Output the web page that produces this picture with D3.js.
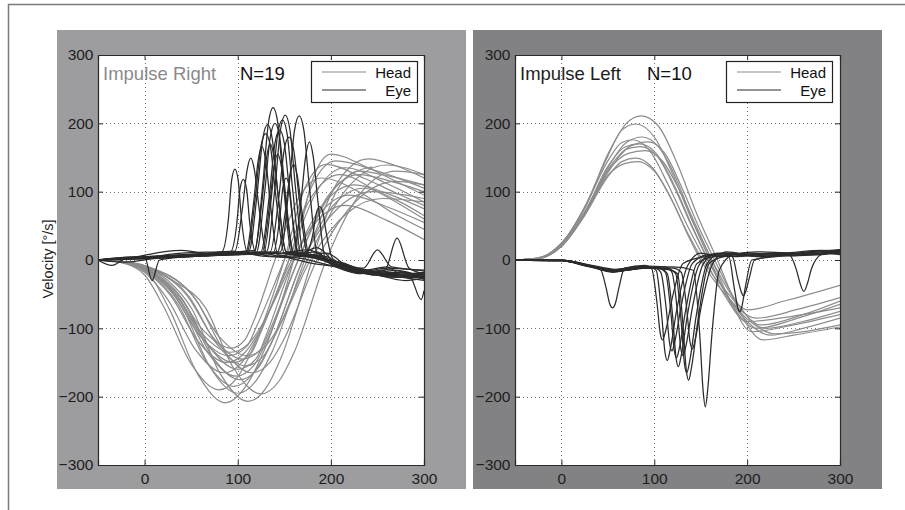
<!DOCTYPE html>
<html>
<head>
<meta charset="utf-8">
<script src="https://cdn.jsdelivr.net/npm/d3@7"></script>
<style>
  body { margin: 0; background: #fff; }
  svg { display: block; }
  text { font-family: "Liberation Sans", Arial, Helvetica, sans-serif; }
</style>
</head>
<body>
<svg id="chart" width="905" height="510"></svg>
<script>
// ---------- DATA ----------
const xTickValues = [0, 100, 200, 300];
const yTickValues = [-300, -200, -100, 0, 100, 200, 300];
const xDomain = [-50, 300];
const yDomain = [-300, 300];
const legendLabels = ["Head", "Eye"];

const panelTitles = ["Impulse Right", "Impulse Left"];
const panelCounts = ["N=19", "N=10"];
const yAxisLabel = "Velocity [°/s]";

// Impulse Right: head velocity traces [time ms, velocity °/s]
const headRight = [
  [[-50,0],[-25,-3],[0,-15],[27,-73],[57,-167],[87,-209],[107,-188],[124,-146],[160,0],[180,116],[200,155],[240,135],[270,115],[300,95]],
  [[-50,0],[-25,-2],[0,-10],[25,-30],[51,-72],[81,-166],[111,-207],[131,-186],[146,-145],[180,0],[205,98],[230,130],[265,122],[300,110]],
  [[-50,0],[-25,-2],[0,-8],[30,-30],[65,-69],[95,-157],[125,-196],[145,-176],[160,-137],[195,0],[232,98],[270,130],[300,125]],
  [[-50,0],[-25,-4],[0,-22],[20,-67],[50,-152],[80,-190],[100,-171],[115,-133],[150,0],[172,105],[195,140],[235,120],[270,98],[300,80]],
  [[-50,0],[-25,-2],[0,-12],[33,-45],[63,-103],[93,-129],[108,-116],[117,-90],[140,0],[165,90],[190,120],[230,100],[265,70],[300,45]],
  [[-50,0],[-25,-3],[0,-14],[30,-49],[60,-112],[90,-140],[110,-126],[120,-98],[150,0],[180,94],[210,125],[250,100],[300,60]],
  [[-50,0],[-25,-2],[0,-12],[35,-52],[65,-120],[95,-150],[115,-135],[125,-105],[155,0],[185,101],[215,135],[260,112],[300,85]],
  [[-50,0],[-25,-2],[0,-11],[40,-56],[70,-128],[100,-160],[120,-144],[130,-112],[160,0],[192,82],[225,110],[265,95],[300,75]],
  [[-50,0],[-25,-3],[0,-14],[38,-60],[68,-136],[98,-170],[118,-153],[131,-119],[165,0],[197,94],[230,125],[265,115],[300,100]],
  [[-50,0],[-25,-2],[0,-10],[45,-51],[75,-116],[105,-145],[125,-130],[135,-101],[165,0],[202,101],[240,135],[245,136]],
  [[-50,0],[-25,-3],[0,-18],[25,-58],[55,-132],[85,-165],[105,-149],[120,-115],[155,0],[180,109],[205,145],[250,130],[300,105]],
  [[-50,0],[-25,-2],[0,-11],[42,-61],[72,-140],[102,-175],[122,-158],[136,-122],[170,0],[207,75],[245,100],[300,90]],
  [[-50,0],[-25,-2],[0,-9],[48,-54],[78,-124],[108,-155],[128,-140],[141,-108],[175,0],[217,104],[260,139],[300,125]],
  [[-50,0],[-25,-2],[0,-13],[32,-47],[62,-108],[92,-135],[112,-122],[126,-95],[160,0],[190,71],[220,95],[260,78],[300,55]],
  [[-50,0],[-25,-2],[0,-8],[55,-58],[85,-132],[115,-165],[135,-149],[150,-115],[185,0],[227,86],[270,115],[300,110]],
  [[-50,0],[-25,-3],[0,-15],[36,-65],[66,-148],[96,-185],[116,-167],[133,-130],[170,0],[202,79],[235,105],[270,88],[300,65]],
  [[-50,0],[-25,-3],[0,-16],[28,-52],[58,-120],[88,-150],[108,-135],[123,-105],[158,0],[187,60],[215,80],[260,58],[300,30]],
  [[-50,0],[-25,-2],[0,-9],[50,-49],[80,-112],[110,-140],[130,-126],[144,-98],[178,0],[217,68],[255,90],[300,85]],
  [[-50,0],[-25,-3],[0,-13],[40,-68],[70,-156],[100,-195],[120,-176],[136,-137],[172,0],[206,111],[240,148],[270,138],[300,120]]
];

// Impulse Right: eye velocity traces
const eyeRight = [
  [[-50,0],[-30,3],[0,5],[40,8],[70,10],[83,12],[90,60],[93.5,117],[97,133],[100.5,117],[104,60],[111,10],[135,5],[160,8],[190,2],[220,-12],[250,-20],[300,-25]],
  [[-50,0],[-20,-3],[10,2],[50,6],[80,9],[92,11],[99,53],[102.5,104],[106,118],[109.5,104],[113,53],[120,10],[150,4],[185,6],[210,-8],[240,-15],[270,-22],[300,-18]],
  [[-50,0],[-25,2],[0,4],[40,10],[80,12],[97,13],[105,75],[110,131],[114,149],[118,131],[123,75],[131,10],[155,3],[180,-5],[205,-10],[230,-20],[260,-14],[300,-28]],
  [[-50,0],[-20,2],[20,12],[40,14],[70,9],[100,10],[109,12],[117,83],[122,146],[126,166],[130,146],[135,83],[143,8],[170,2],[200,-8],[230,-16],[265,-20],[300,-22]],
  [[-50,0],[0,4],[50,7],[100,10],[118,12],[127,112],[133,201],[138,223],[143,201],[149,112],[158,8],[180,4],[200,0],[225,-14],[255,-22],[300,-18]],
  [[-50,0],[0,3],[60,8],[110,11],[131,12],[140,106],[146,191],[151,212],[156,191],[162,106],[171,6],[190,3],[210,-10],[240,-18],[270,-25],[300,-20]],
  [[-50,0],[0,2],[60,7],[120,10],[146,12],[155,106],[161,190],[166,211],[171,190],[177,106],[186,5],[205,-2],[225,-12],[250,-20],[280,-26],[300,-30]],
  [[-50,0],[0,3],[60,6],[130,9],[160,10],[168,87],[173,152],[177,173],[181,152],[186,87],[194,3],[215,-5],[235,-15],[260,-10],[280,-25],[300,-20]],
  [[-50,0],[0,4],[60,7],[140,10],[174,12],[181,40],[184.5,69],[188,78],[191.5,69],[195,40],[202,2],[225,-12],[245,-22],[270,-18],[300,-24]],
  [[-50,0],[-35,-8],[-20,2],[20,5],[70,8],[100,11],[110,12],[119,93],[125,167],[130,185],[135,167],[141,93],[150,10],[175,5],[200,-3],[230,-14],[260,-24],[300,-26]],
  [[-50,0],[0,3],[40,6],[100,10],[120,11],[129,100],[135,180],[140,200],[145,180],[151,100],[160,10],[180,8],[200,-5],[235,-12],[250,15],[265,-10],[300,-15]],
  [[-50,0],[0,5],[8,-30],[16,0],[50,5],[100,9],[125,12],[134,95],[140,171],[145,190],[150,171],[156,95],[165,8],[185,18],[200,2],[210,-10],[240,-20],[270,-15],[300,-25]],
  [[-50,0],[0,3],[50,8],[100,12],[118,14],[126,85],[131,150],[135,170],[139,150],[144,85],[152,12],[180,6],[205,-8],[235,-18],[258,-15],[271,32],[284,-12],[300,-20]],
  [[-50,0],[0,2],[60,6],[110,9],[128,11],[137,103],[143,185],[148,205],[153,185],[159,103],[168,9],[195,5],[215,-12],[245,-16],[285,-25],[297,-58],[300,-45]],
  [[-50,0],[0,3],[60,7],[120,10],[135,12],[144,90],[150,162],[155,180],[160,162],[166,90],[175,8],[195,-2],[220,-15],[250,-22],[280,-18],[300,-28]],
  [[-50,0],[0,4],[60,8],[120,11],[143,12],[151,70],[156,123],[160,140],[164,123],[169,70],[177,6],[200,0],[225,-10],[255,-20],[300,-22]],
  [[-50,0],[0,2],[50,5],[100,9],[126,10],[134,78],[139,136],[143,155],[147,136],[152,78],[160,8],[185,12],[200,-6],[230,-18],[260,-12],[300,-16]],
  [[-50,0],[0,3],[60,6],[120,9],[138,10],[145,60],[148.5,106],[152,120],[155.5,106],[159,60],[166,6],[195,10],[220,-12],[250,-22],[280,-30],[300,-26]],
  [[-50,0],[0,4],[50,8],[100,12],[112,13],[121,99],[127,178],[132,198],[137,178],[143,99],[152,12],[175,15],[205,-5],[235,-15],[265,-25],[300,-18]]
];

// Impulse Left: head velocity traces
const headLeft = [
  [[-50,0],[-25,3],[0,25],[25,75],[50,155],[70,200],[86,211],[105,195],[125,140],[145,70],[168,0],[190,-70],[217,-117],[250,-110],[300,-98]],
  [[-50,0],[-25,3],[0,24],[25,78],[50,152],[65,190],[80,199],[100,180],[120,125],[140,60],[162,0],[182,-60],[205,-105],[250,-95],[300,-80]],
  [[-50,0],[-25,2],[0,20],[25,68],[50,135],[70,172],[87,180],[105,165],[125,115],[142,55],[160,0],[182,-62],[210,-100],[255,-85],[300,-65]],
  [[-50,0],[-25,2],[0,20],[25,66],[50,128],[75,167],[94,173],[112,155],[130,105],[148,48],[165,0],[188,-60],[215,-95],[260,-80],[300,-60]],
  [[-50,0],[-25,3],[0,24],[25,76],[50,145],[65,172],[77,176],[95,160],[115,110],[135,52],[155,0],[175,-50],[200,-90],[250,-82],[300,-70]],
  [[-50,0],[-25,2],[0,22],[25,70],[50,132],[70,162],[85,166],[103,152],[122,105],[140,50],[158,0],[180,-55],[200,-90],[225,-110],[260,-100],[300,-85]],
  [[-50,0],[-25,2],[0,20],[25,65],[50,122],[65,144],[80,149],[98,135],[118,90],[135,42],[152,0],[175,-42],[201,-73],[240,-60],[300,-37]],
  [[-50,0],[-25,2],[0,21],[25,67],[50,124],[68,141],[82,144],[100,130],[120,85],[135,40],[150,0],[175,-48],[210,-85],[255,-72],[300,-55]],
  [[-50,0],[-25,2],[0,20],[25,66],[50,130],[72,156],[90,160],[108,146],[128,100],[145,50],[162,0],[185,-55],[220,-100],[260,-90],[300,-75]],
  [[-50,0],[-25,2],[0,22],[25,70],[50,137],[68,165],[84,170],[102,156],[122,108],[140,52],[158,0],[180,-55],[205,-92],[230,-108],[265,-104],[300,-95]]
];

// Impulse Left: eye velocity traces
const eyeLeft = [
  [[-50,0],[0,-1],[25,-8],[42,-14],[48,-40],[52,-64],[55,-70],[58,-64],[62,-40],[68,-12],[90,-8],[97,-12],[103,-64],[106.5,-108],[109,-117],[112,-105],[119,-58],[131,-5],[155,5],[180,8],[220,5],[260,8],[300,12]],
  [[-50,0],[0,0],[25,-7],[50,-16],[75,-12],[95,-10],[102,-15],[108,-81],[111.5,-135],[114,-147],[117,-132],[124,-74],[136,-8],[150,10],[170,5],[210,8],[250,6],[300,15]],
  [[-50,0],[0,-1],[30,-9],[55,-15],[80,-10],[106,-12],[114,-20],[120,-86],[123.5,-144],[126,-156],[129,-140],[136,-78],[148,-8],[162,8],[190,5],[230,10],[270,8],[300,12]],
  [[-50,0],[0,0],[30,-8],[55,-18],[85,-12],[115,-14],[125,-20],[131,-97],[134.5,-162],[137,-176],[140,-158],[147,-88],[159,-5],[175,5],[200,10],[240,8],[280,12],[300,10]],
  [[-50,0],[0,-1],[30,-10],[60,-16],[90,-12],[120,-10],[142,-15],[149,-110],[152.5,-190],[155,-215],[157.5,-190],[162,-110],[170,-15],[185,8],[210,12],[250,10],[300,15]],
  [[-50,0],[0,0],[30,-7],[60,-14],[90,-9],[112,-10],[119,-18],[125,-77],[128.5,-129],[131,-140],[134,-126],[141,-70],[153,-5],[168,10],[184,5],[190,-28],[194,-48],[196,-53],[198,-48],[202,-28],[208,0],[240,8],[280,10],[300,8]],
  [[-50,0],[0,-1],[30,-9],[55,-17],[80,-13],[100,-11],[107,-18],[113,-73],[116.5,-122],[119,-133],[122,-120],[129,-67],[141,-5],[158,8],[185,10],[225,6],[265,12],[300,15]],
  [[-50,0],[0,0],[30,-8],[55,-14],[85,-10],[105,-12],[112,-18],[118,-79],[121.5,-132],[124,-143],[127,-129],[134,-72],[146,-5],[165,5],[180,6],[186,-40],[190,-70],[192,-76],[194,-70],[198,-40],[205,0],[240,6],[280,8],[300,10]],
  [[-50,0],[0,-1],[30,-9],[60,-15],[95,-11],[115,-13],[123,-20],[129,-91],[132.5,-152],[135,-165],[138,-149],[145,-83],[157,-5],[172,10],[200,8],[240,10],[280,14],[300,12]],
  [[-50,0],[0,0],[30,-8],[60,-16],[90,-12],[120,-12],[129,-18],[135,-72],[138.5,-120],[141,-130],[144,-117],[151,-65],[163,-5],[178,12],[210,5],[245,8],[253,-14],[257,-34],[261,-46],[265,-34],[269,-14],[280,8],[300,14]]
];

// ---------- DRAWING ----------
const svg = d3.select("#chart");
svg.append("rect").attr("width", 905).attr("height", 510).attr("fill", "#fff");

// outer frame (top and left edges visible)
svg.append("path")
  .attr("d", "M8.5,512 L8.5,4.5 L907,4.5")
  .attr("fill", "none").attr("stroke", "#7a7a7a").attr("stroke-width", 1.5);

const HEAD_COLOR = "#8c8c8c";
const EYE_COLOR = "#2b2b2b";

const panels = [
  { bgX: 57, bgFill: "#9d9d9f", plotX: 98, plotW: 326, title: panelTitles[0], titleColor: "#8a8a8a",
    count: panelCounts[0], countX: 240, heads: headRight, eyes: eyeRight, legendX: 311, yLabel: true },
  { bgX: 473, bgFill: "#828284", plotX: 515, plotW: 325, title: panelTitles[1], titleColor: "#1e1e1e",
    count: panelCounts[1], countX: 647, heads: headLeft, eyes: eyeLeft, legendX: 726, yLabel: false }
];

const plotTop = 55, plotH = 410;
const fmt = d => d < 0 ? "\u2212" + Math.abs(d) : String(d);

panels.forEach((p, i) => {
  const g = svg.append("g");
  g.append("rect").attr("x", p.bgX).attr("y", 30).attr("width", 409).attr("height", 459).attr("fill", p.bgFill);
  g.append("rect").attr("x", p.plotX).attr("y", plotTop).attr("width", p.plotW).attr("height", plotH).attr("fill", "#fff");

  const x = d3.scaleLinear().domain(xDomain).range([p.plotX, p.plotX + p.plotW]);
  const y = d3.scaleLinear().domain(yDomain).range([plotTop + plotH, plotTop]);

  // dotted grid
  const grid = g.append("g").attr("stroke", "#777").attr("stroke-width", 1).attr("stroke-dasharray", "1,3");
  xTickValues.filter(v => v > xDomain[0] && v < xDomain[1]).forEach(v => {
    grid.append("line").attr("x1", Math.round(x(v)) + 0.5).attr("x2", Math.round(x(v)) + 0.5)
      .attr("y1", plotTop).attr("y2", plotTop + plotH);
  });
  yTickValues.filter(v => v > yDomain[0] && v < yDomain[1]).forEach(v => {
    grid.append("line").attr("y1", Math.round(y(v)) + 0.5).attr("y2", Math.round(y(v)) + 0.5)
      .attr("x1", p.plotX).attr("x2", p.plotX + p.plotW);
  });

  // traces
  const clipId = "clip" + i;
  svg.append("defs").append("clipPath").attr("id", clipId)
    .append("rect").attr("x", p.plotX).attr("y", plotTop).attr("width", p.plotW).attr("height", plotH);
  const line = d3.line().x(d => x(d[0])).y(d => y(d[1])).curve(d3.curveMonotoneX);
  const traces = g.append("g").attr("clip-path", `url(#${clipId})`).attr("fill", "none");
  traces.selectAll(".head").data(p.heads).join("path").attr("class", "head")
    .attr("d", line).attr("stroke", HEAD_COLOR).attr("stroke-width", 1.2);
  traces.selectAll(".eye").data(p.eyes).join("path").attr("class", "eye")
    .attr("d", line).attr("stroke", EYE_COLOR).attr("stroke-width", 1.25);

  // axes (inner ticks on all four sides)
  const tickLen = 5;
  const axB = g.append("g").attr("transform", `translate(0,${plotTop + plotH})`)
    .call(d3.axisBottom(x).tickValues(xTickValues).tickSize(-tickLen).tickPadding(8).tickFormat(fmt));
  const axT = g.append("g").attr("transform", `translate(0,${plotTop})`)
    .call(d3.axisTop(x).tickValues(xTickValues).tickSize(-tickLen).tickFormat(""));
  const axL = g.append("g").attr("transform", `translate(${p.plotX},0)`)
    .call(d3.axisLeft(y).tickValues(yTickValues).tickSize(-tickLen).tickPadding(4.5).tickFormat(fmt));
  const axR = g.append("g").attr("transform", `translate(${p.plotX + p.plotW},0)`)
    .call(d3.axisRight(y).tickValues(yTickValues).tickSize(-tickLen).tickFormat(""));
  [axB, axT, axL, axR].forEach(a => {
    a.select(".domain").attr("stroke", "#2a2a2a").attr("stroke-width", 1.2);
    a.selectAll(".tick line").attr("stroke", "#2a2a2a");
    a.selectAll("text").attr("font-size", 15.5).attr("fill", "#1e1e1e")
      .attr("font-family", "'Liberation Sans', Arial, sans-serif");
  });

  // title and count
  g.append("text").attr("x", p.plotX + 5).attr("y", 80).attr("font-size", 18.5)
    .attr("fill", p.titleColor).text(p.title);
  g.append("text").attr("x", p.countX).attr("y", 80).attr("font-size", 18.5)
    .attr("fill", "#111").text(p.count);

  // legend
  const lg = g.append("g").attr("transform", `translate(${p.legendX},61)`);
  lg.append("rect").attr("x", 0.5).attr("y", 0.5).attr("width", 106).attr("height", 41)
    .attr("fill", "#fff").attr("stroke", "#222").attr("stroke-width", 1.2);
  [HEAD_COLOR, EYE_COLOR].forEach((c, k) => {
    const yy = 11 + k * 18;
    lg.append("line").attr("x1", 11).attr("x2", 55).attr("y1", yy).attr("y2", yy)
      .attr("stroke", c).attr("stroke-width", 1.2);
    lg.append("text").attr("x", 100).attr("y", yy + 5.5).attr("text-anchor", "end")
      .attr("font-size", 15).attr("fill", "#111").text(legendLabels[k]);
  });

  if (p.yLabel) {
    g.append("text").attr("transform", `translate(53,259) rotate(-90)`).attr("text-anchor", "middle")
      .attr("font-size", 14.5).attr("fill", "#1e1e1e").text(yAxisLabel);
  }
});
</script>
</body>
</html>
